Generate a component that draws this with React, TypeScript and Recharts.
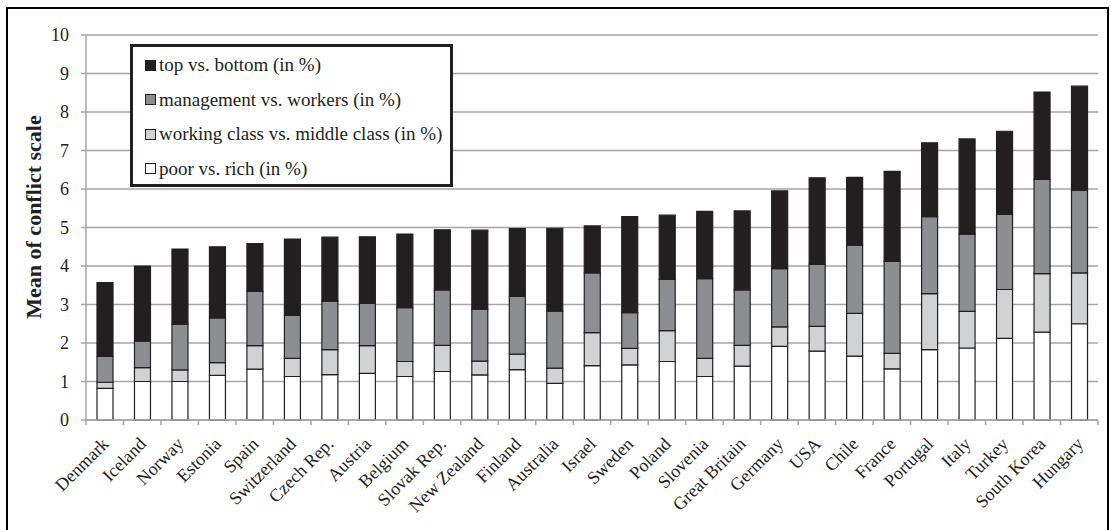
import React from 'react';
import { BarChart, Bar, XAxis, YAxis, CartesianGrid, Legend, Label } from 'recharts';

const countries = [
  'Denmark', 'Iceland', 'Norway', 'Estonia', 'Spain', 'Switzerland', 'Czech Rep.', 'Austria', 'Belgium',
  'Slovak Rep.', 'New Zealand', 'Finland', 'Australia', 'Israel', 'Sweden', 'Poland', 'Slovenia',
  'Great Britain', 'Germany', 'USA', 'Chile', 'France', 'Portugal', 'Italy', 'Turkey', 'South Korea', 'Hungary',
];
const poorVsRich = [0.82, 1.0, 1.0, 1.16, 1.32, 1.13, 1.18, 1.21, 1.13, 1.26, 1.17, 1.31, 0.95, 1.41, 1.43, 1.52, 1.13, 1.4, 1.91, 1.79, 1.66, 1.33, 1.83, 1.87, 2.12, 2.28, 2.5];
const workingVsMiddle = [0.16, 0.36, 0.3, 0.33, 0.61, 0.47, 0.65, 0.72, 0.39, 0.68, 0.36, 0.4, 0.4, 0.86, 0.43, 0.8, 0.47, 0.54, 0.51, 0.64, 1.11, 0.4, 1.45, 0.95, 1.27, 1.52, 1.32];
const managementVsWorkers = [0.67, 0.69, 1.19, 1.16, 1.41, 1.12, 1.26, 1.1, 1.4, 1.44, 1.35, 1.5, 1.48, 1.55, 0.93, 1.33, 2.07, 1.44, 1.51, 1.61, 1.77, 2.39, 2.0, 2.01, 1.95, 2.45, 2.15];
const topVsBottom = [1.92, 1.95, 1.95, 1.85, 1.24, 1.98, 1.66, 1.73, 1.91, 1.56, 2.05, 1.76, 2.15, 1.22, 2.49, 1.67, 1.75, 2.05, 2.02, 2.25, 1.76, 2.34, 1.92, 2.47, 2.16, 2.27, 2.7];
const yTicks = [0, 1, 2, 3, 4, 5, 6, 7, 8, 9, 10];

const seriesKeys = ['poor', 'working', 'management', 'top'];
const seriesNames = ['poor vs. rich (in %)', 'working class vs. middle class (in %)', 'management vs. workers (in %)', 'top vs. bottom (in %)'];
const seriesColors = ['#ffffff', '#d1d2d4', '#8d8e91', '#231f20'];

const data = countries.map((c, i) => ({
  country: c,
  poor: poorVsRich[i],
  working: workingVsMiddle[i],
  management: managementVsWorkers[i],
  top: topVsBottom[i],
}));

const FONT = '"Liberation Serif", "DejaVu Serif", serif';
const TEXT = '#231f20';
const GRID = '#a6a6a6';

const W = 1111;
const H = 530;
const MARGIN = { top: 35, right: 13, bottom: 30, left: 0 };
const Y_W = 86;
const X_H = 80;
const PLOT_W = W - MARGIN.left - MARGIN.right - Y_W;

const XTick = (props: any) => {
  const { x, y, payload, index } = props;
  const bw = PLOT_W / countries.length;
  const tx = x + 5;
  const ty = y + 25;
  return (
    <g>
      <line x1={x - bw / 2} x2={x - bw / 2} y1={y} y2={y + 5} stroke={GRID} strokeWidth={1.5} />
      {index === countries.length - 1 && (
        <line x1={x + bw / 2} x2={x + bw / 2} y1={y} y2={y + 5} stroke={GRID} strokeWidth={1.5} />
      )}
      <text x={tx} y={ty} transform={`rotate(-45 ${tx} ${ty})`} textAnchor="end" fontFamily={FONT} fontSize={18} fill={TEXT}>
        {payload.value}
      </text>
    </g>
  );
};

const LegendBox = () => {
  const order = [3, 2, 1, 0];
  return (
    <div
      style={{
        width: 323,
        height: 143,
        boxSizing: 'border-box',
        border: `3px solid ${TEXT}`,
        background: '#fff',
        fontFamily: FONT,
        fontSize: 19,
        color: TEXT,
        paddingTop: 1,
      }}
    >
      {order.map((i) => (
        <div key={seriesKeys[i]} style={{ height: 34.5, display: 'flex', alignItems: 'center', paddingLeft: 12 }}>
          <span
            style={{
              display: 'inline-block',
              width: 11,
              height: 11,
              boxSizing: 'border-box',
              border: `1px solid ${TEXT}`,
              background: seriesColors[i],
              marginRight: 3,
            }}
          />
          <span style={{ whiteSpace: 'nowrap', lineHeight: '20px' }}>{seriesNames[i]}</span>
        </div>
      ))}
    </div>
  );
};

const YTitle = () => (
  <text x={41} y={217} transform="rotate(-90 41 217)" textAnchor="middle" fontFamily={FONT} fontWeight="bold" fontSize={22} fill={TEXT}>
    Mean of conflict scale
  </text>
);

export default function App() {
  return (
    <div style={{ position: 'absolute', left: 0, top: 0, width: W, height: H, background: '#fff', overflow: 'hidden' }}>
      <div
        style={{
          position: 'absolute',
          left: 6,
          top: 7,
          width: 1103,
          height: 560,
          boxSizing: 'border-box',
          border: '2px solid #000',
        }}
      />
      <div style={{ position: 'absolute', left: 0, top: 0 }}>
        <BarChart width={W} height={H} data={data} margin={MARGIN} barSize={16}>
          <CartesianGrid horizontal vertical={false} stroke={GRID} strokeWidth={1.5} />
          <XAxis
            dataKey="country"
            interval={0}
            height={X_H}
            tickLine={false}
            tickSize={0}
            tickMargin={0}
            axisLine={{ stroke: GRID, strokeWidth: 1.5 }}
            tick={<XTick />}
          />
          <YAxis
            width={Y_W}
            domain={[0, 10]}
            ticks={yTicks}
            interval={0}
            tickSize={5}
            tickMargin={12}
            tickLine={{ stroke: GRID, strokeWidth: 1.5 }}
            axisLine={{ stroke: GRID, strokeWidth: 1.5 }}
            tick={{ fontFamily: FONT, fontSize: 18, fill: TEXT }}
          >
            <Label content={() => <YTitle />} />
          </YAxis>
          <Legend
            layout="vertical"
            align="center"
            verticalAlign="middle"
            content={() => <LegendBox />}
            wrapperStyle={{ position: 'absolute', left: 130, top: 44, width: 323, height: 143 }}
          />
          {seriesKeys.map((k, i) => (
            <Bar
              key={k}
              dataKey={k}
              name={seriesNames[i]}
              stackId="a"
              fill={seriesColors[i]}
              stroke={TEXT}
              strokeWidth={1.2}
              isAnimationActive={false}
            />
          ))}
        </BarChart>
      </div>
    </div>
  );
}
